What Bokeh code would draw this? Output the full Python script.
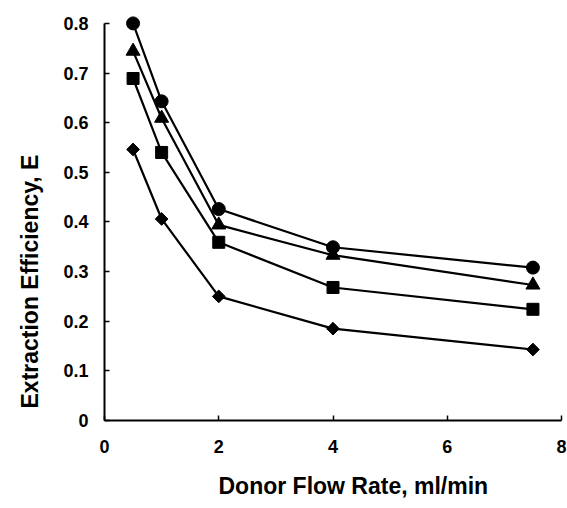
import math
from bokeh.plotting import figure
from bokeh.models import Range1d, FixedTicker, Title
from bokeh.embed import file_html
from bokeh.resources import INLINE

flow_rate = [0.5, 1, 2, 4, 7.5]
series_circle = [0.800, 0.643, 0.426, 0.349, 0.308]
series_triangle = [0.744, 0.609, 0.394, 0.333, 0.273]
series_square = [0.689, 0.540, 0.359, 0.268, 0.224]
series_diamond = [0.546, 0.406, 0.250, 0.185, 0.143]

x_ticks = [0, 2, 4, 6, 8]
y_ticks = [0, 0.1, 0.2, 0.3, 0.4, 0.5, 0.6, 0.7, 0.8]

FONT = "Liberation Sans"

p = figure(width=567, height=508, frame_width=457, frame_height=412,
           min_border_left=104, min_border_right=6, min_border_top=8, min_border_bottom=88,
           x_range=Range1d(0, 8), y_range=Range1d(0, 0.83),
           output_backend="svg", toolbar_location=None)

p.outline_line_color = None
p.xgrid.visible = False
p.ygrid.visible = False
p.background_fill_color = "white"
p.border_fill_color = "white"

for ax in (p.xaxis[0], p.yaxis[0]):
    ax.axis_line_width = 2
    ax.axis_line_color = "black"
    ax.major_tick_in = 5
    ax.major_tick_out = 0
    ax.major_tick_line_width = 1.5
    ax.major_tick_line_color = "black"
    ax.minor_tick_line_color = None
    ax.major_label_text_font = FONT
    ax.major_label_text_font_style = "bold"
    ax.major_label_text_font_size = "18px"
    ax.major_label_text_color = "black"

p.xaxis[0].ticker = FixedTicker(ticks=x_ticks)
p.yaxis[0].ticker = FixedTicker(ticks=y_ticks)
p.xaxis[0].bounds = (0, 8)
p.yaxis[0].bounds = (0, 0.8)
p.xaxis[0].major_label_standoff = 19
p.yaxis[0].major_label_standoff = 16
p.yaxis[0].major_label_overrides = {0: "0"}

xt = Title(text="Donor Flow Rate, ml/min", align="left", offset=114,
           text_font=FONT, text_font_style="bold", text_font_size="23px",
           text_color="black", standoff=30)
p.add_layout(xt, "below")
yt = Title(text="Extraction Efficiency, E", align="left", offset=12, vertical_align="top",
           text_font=FONT, text_font_style="bold", text_font_size="23px",
           text_color="black", standoff=31)
p.add_layout(yt, "left")

lw = 2.2
p.line(flow_rate, series_circle, line_color="black", line_width=lw)
p.scatter(flow_rate, series_circle, marker="circle", size=13, fill_color="black", line_color="black")
p.line(flow_rate, series_triangle, line_color="black", line_width=lw)
p.scatter(flow_rate, series_triangle, marker="triangle", size=14, fill_color="black", line_color="black")
p.line(flow_rate, series_square, line_color="black", line_width=lw)
p.scatter(flow_rate, series_square, marker="square", size=12, fill_color="black", line_color="black")
p.line(flow_rate, series_diamond, line_color="black", line_width=lw)
p.scatter(flow_rate, series_diamond, marker="square", angle=math.pi / 4, size=9,
          fill_color="black", line_color="black")

open("out.html", "w").write(file_html(p, INLINE))
